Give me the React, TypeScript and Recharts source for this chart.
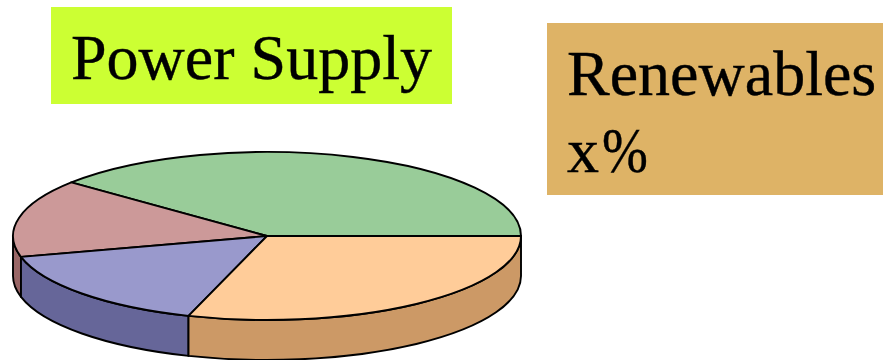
import { Pie, PieChart } from "recharts";

const sliceNames = ["Slice A", "Slice B", "Slice C", "Slice D"];
const sliceValues = [39, 15, 16, 30];
const topColors = ["#99CC99", "#CC9999", "#9999CC", "#FFCC99"];
const sideColors = ["#669966", "#996666", "#666699", "#CC9966"];
const titleLines = ["Power Supply"];
const noteLines = ["Renewables", "x%"];

const data = sliceNames.map((name, i) => ({
    name,
    value: sliceValues[i],
    fill: topColors[i],
    side: sideColors[i],
}));

// the pie is tilted, so the circle from recharts gets squashed to an ellipse
const TILT = 84 / 254;
const DEPTH = 40;
const RAD = Math.PI / 180;

const pointAt = (cx: number, cy: number, r: number, deg: number) => [
    cx + r * Math.cos(deg * RAD),
    cy - r * TILT * Math.sin(deg * RAD),
];

const TopSlice = (props: any) => {
    const { cx, cy, outerRadius: r, startAngle, endAngle, fill } = props;
    const [x1, y1] = pointAt(cx, cy, r, startAngle);
    const [x2, y2] = pointAt(cx, cy, r, endAngle);
    const large = endAngle - startAngle > 180 ? 1 : 0;
    const d = `M${cx},${cy} L${x1},${y1} A${r},${r * TILT} 0 ${large} 0 ${x2},${y2} Z`;
    return <path d={d} fill={fill} stroke="#000" strokeWidth={1.9} strokeLinejoin="round" />;
};

// wall below the front half of the ellipse only
const SideSlice = (props: any) => {
    const { cx, cy, outerRadius: r, startAngle, endAngle, payload } = props;
    const from = Math.max(startAngle, 180);
    const to = Math.min(endAngle, 360);
    if (to <= from) return <g />;
    const [x1, y1] = pointAt(cx, cy, r, from);
    const [x2, y2] = pointAt(cx, cy, r, to);
    const ry = r * TILT;
    const d =
        `M${x1},${y1} A${r},${ry} 0 0 0 ${x2},${y2} L${x2},${y2 + DEPTH} ` +
        `A${r},${ry} 0 0 1 ${x1},${y1 + DEPTH} Z`;
    return <path d={d} fill={payload.side} stroke="#000" strokeWidth={1.9} strokeLinejoin="round" />;
};

// the percent sign in the reference is narrower than the Liberation one
const renderLine = (line: string) =>
    line.split("").map((ch, i) =>
        ch === "%" ? (
            <span
                key={i}
                style={{
                    display: "inline-block",
                    transform: "scaleX(0.86)",
                    transformOrigin: "left center",
                    marginLeft: 3,
                }}
            >
                {ch}
            </span>
        ) : (
            ch
        )
    );

const TextBox = ({
    lines,
    baselines,
    left,
    top,
    width,
    height,
    textLeft,
    background,
}: {
    lines: string[];
    baselines: number[];
    left: number;
    top: number;
    width: number;
    height: number;
    textLeft: number;
    background: string;
}) => (
    <div style={{ position: "absolute", left, top, width, height, background }}>
        {lines.map((line, i) => (
            <div
                key={line}
                style={{
                    position: "absolute",
                    left: textLeft - left,
                    top: baselines[i] - 57 - top,
                    fontFamily: '"Liberation Serif", serif',
                    fontSize: 64,
                    lineHeight: "71px",
                    color: "#000",
                    whiteSpace: "nowrap",
                    WebkitTextStroke: "0.4px #000",
                }}
            >
                {renderLine(line)}
            </div>
        ))}
    </div>
);

export default function App() {
    return (
        <div
            style={{
                position: "absolute",
                left: 0,
                top: 0,
                width: 883,
                height: 360,
                overflow: "hidden",
                background: "#fff",
            }}
        >
            <div style={{ position: "absolute", left: 0, top: 0 }}>
                <PieChart width={883} height={360} margin={{ top: 0, right: 0, bottom: 0, left: 0 }}>
                    <Pie
                        data={data}
                        dataKey="value"
                        cx={267}
                        cy={236}
                        outerRadius={254}
                        startAngle={0}
                        endAngle={360}
                        shape={SideSlice}
                        isAnimationActive={false}
                    />
                    <Pie
                        data={data}
                        dataKey="value"
                        cx={267}
                        cy={236}
                        outerRadius={254}
                        startAngle={0}
                        endAngle={360}
                        shape={TopSlice}
                        isAnimationActive={false}
                    />
                </PieChart>
            </div>
            <TextBox
                lines={titleLines}
                baselines={[79]}
                left={51}
                top={7}
                width={401}
                height={97}
                textLeft={71}
                background="#CCFF33"
            />
            <TextBox
                lines={noteLines}
                baselines={[95, 172]}
                left={547}
                top={23}
                width={336}
                height={172}
                textLeft={567}
                background="#DEB366"
            />
        </div>
    );
}
